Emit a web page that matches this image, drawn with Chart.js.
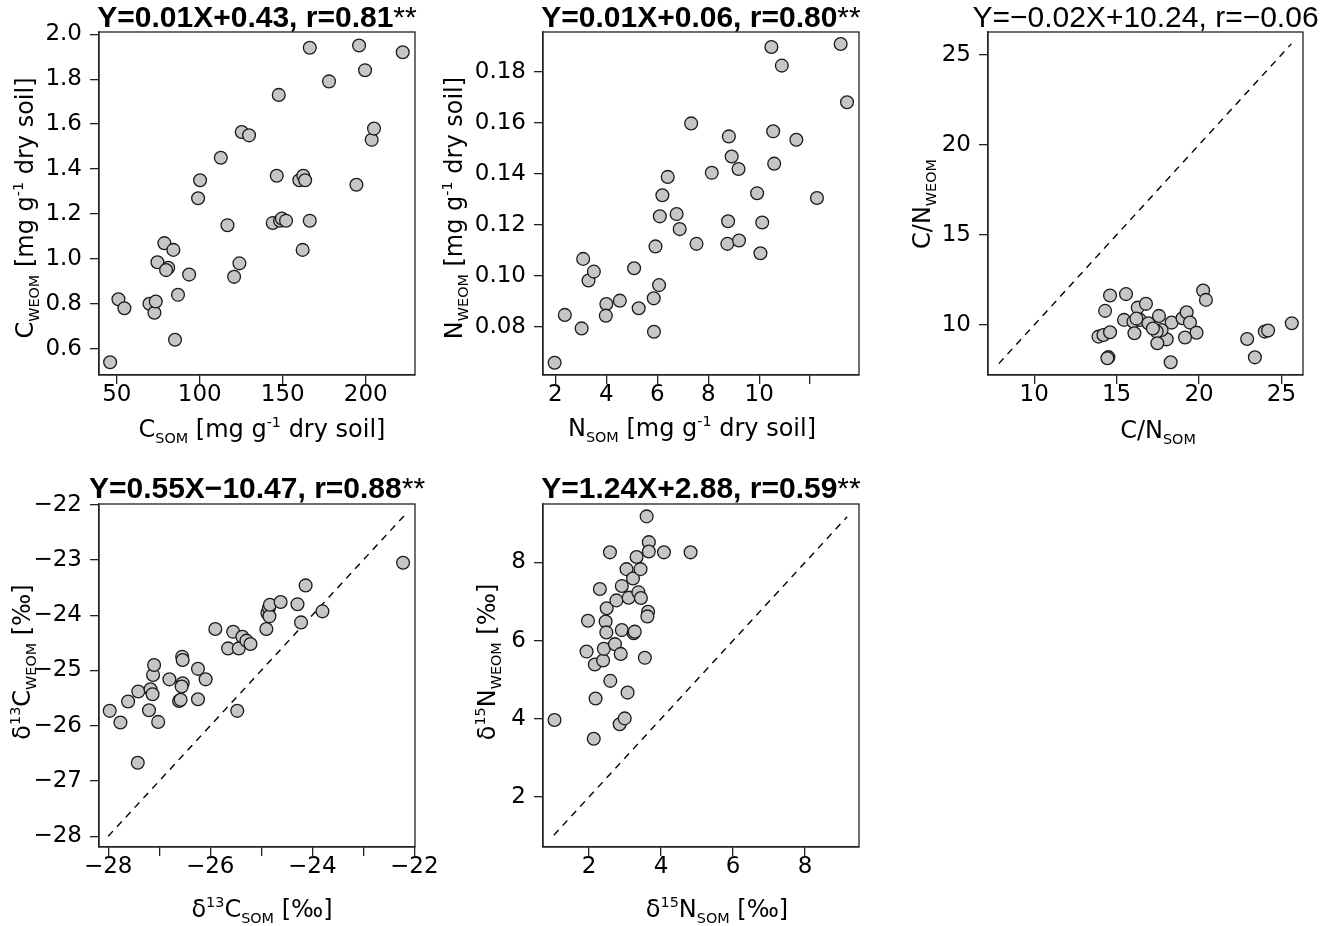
<!DOCTYPE html>
<html>
<head>
<meta charset="utf-8">
<script src="https://cdn.jsdelivr.net/npm/chart.js@4.4.1/dist/chart.umd.min.js"></script>
<style>
  html, body { margin: 0; padding: 0; background: #fff; }
  #wrap { position: relative; width: 1325px; height: 926px; overflow: hidden; }
  #wrap canvas { position: absolute; left: 0; top: 0; }
</style>
</head>
<body>
<div id="wrap">
  <canvas id="p1" width="1325" height="926"></canvas>
  <canvas id="p2" width="1325" height="926"></canvas>
  <canvas id="p3" width="1325" height="926"></canvas>
  <canvas id="p4" width="1325" height="926"></canvas>
  <canvas id="p5" width="1325" height="926"></canvas>
</div>
<script>
// C content [mg g-1 dry soil]
var cSom  = [46, 51, 54.6, 69.7, 72.7, 73.5, 74.5, 78.7, 81, 79.7, 84.1, 86.9, 85.1, 93.6, 99, 100.2,
             112.7, 116.7, 120.7, 123.9, 125.3, 129.7, 144, 146.4, 147.6, 148.4, 149.5, 152, 160, 162.4,
             163.5, 162, 166.3, 166.3, 177.9, 194.4, 196, 199.6, 203.6, 205, 222.3];
var cWeom = [0.54, 0.82, 0.78, 0.80, 0.76, 0.81, 0.985, 1.07, 0.96, 0.95, 1.04, 0.84, 0.64, 0.93, 1.27, 1.35,
             1.45, 1.15, 0.92, 0.98, 1.565, 1.55, 1.16, 1.37, 1.73, 1.17, 1.18, 1.17, 1.35, 1.37,
             1.35, 1.04, 1.94, 1.17, 1.79, 1.33, 1.95, 1.84, 1.53, 1.58, 1.92];

// N content
var nSom  = [1.97, 2.37, 3.03, 3.09, 3.30, 3.51, 4.00, 3.98, 4.53, 5.09, 5.27, 5.86, 5.87, 6.07, 5.93, 6.10,
             6.20, 6.41, 6.76, 6.88, 7.33, 7.54, 8.14, 8.75, 8.78, 8.81, 8.92, 9.19, 9.21, 9.92,
             10.05, 10.12, 10.48, 10.55, 10.59, 10.89, 11.46, 12.27, 13.20, 13.45];
var nWeom = [0.0658, 0.0846, 0.0793, 0.1066, 0.0981, 0.1016, 0.0889, 0.0843, 0.0902, 0.1029, 0.0872, 0.0911,
             0.0780, 0.0963, 0.1115, 0.1233, 0.1316, 0.1388, 0.1242, 0.1183, 0.1598, 0.1125, 0.1404, 0.1125,
             0.1214, 0.1547, 0.1468, 0.1419, 0.1138, 0.1324, 0.1088, 0.1209, 0.1898, 0.1567, 0.1440, 0.1825,
             0.1534, 0.1305, 0.1910, 0.1681];

// C/N ratio
var cnSom  = [14.60, 15.57, 14.30, 16.28, 16.78, 15.45, 16.02, 16.42, 16.93, 17.57, 18.34, 19.00, 19.25, 19.45,
              19.85, 19.15, 18.04, 17.73, 17.43, 17.47, 16.08, 13.90, 14.20, 14.60, 14.50, 14.44, 18.28, 20.25,
              20.42, 17.20, 16.20, 22.92, 23.39, 23.99, 24.19, 25.63];
var cnWeom = [11.63, 11.71, 10.78, 10.96, 11.17, 10.28, 10.18, 10.28, 10.09, 10.50, 10.13, 10.37, 10.70, 10.13,
              9.57, 9.30, 9.20, 9.72, 9.63, 8.98, 9.54, 9.35, 9.44, 9.59, 8.21, 8.15, 7.93, 11.91,
              11.39, 9.80, 10.35, 9.22, 8.20, 9.63, 9.69, 10.09];

// delta 13C
var d13cSom  = [-27.97, -27.76, -27.61, -27.41, -27.42, -27.20, -27.17, -27.13, -27.12, -27.10, -27.02, -26.80,
                -26.61, -26.58, -26.55, -26.54, -26.54, -26.56, -26.24, -26.24, -26.09, -25.90, -25.65, -25.55,
                -25.47, -25.44, -25.37, -25.29, -25.21, -24.90, -24.88, -24.85, -24.84, -24.83, -24.62, -24.29,
                -24.22, -24.13, -23.80, -22.22];
var d13cWeom = [-25.73, -25.94, -25.56, -25.38, -26.67, -25.72, -25.34, -25.43, -25.08, -24.90, -25.93, -25.16,
                -25.55, -25.53, -24.75, -24.81, -25.23, -25.29, -25.52, -24.97, -25.16, -24.25, -24.60, -24.30,
                -25.73, -24.60, -24.39, -24.46, -24.52, -24.25, -23.96, -23.87, -24.02, -23.81, -23.76, -23.80,
                -24.13, -23.46, -23.93, -23.05];

// delta 15N
var d15nSom  = [1.04, 1.97, 1.93, 2.13, 2.18, 2.16, 2.30, 2.39, 2.41, 2.46, 2.48, 2.49, 2.58, 2.59, 2.72, 2.76,
                2.85, 2.88, 2.91, 2.91, 2.99, 3.07, 3.04, 3.10, 3.22, 3.24, 3.27, 3.32, 3.37, 3.43, 3.44, 3.55,
                3.60, 3.64, 3.62, 3.66, 3.66, 4.08, 4.82];
var d15nWeom = [3.97, 6.51, 5.72, 3.49, 4.52, 5.39, 7.32, 5.49, 5.79, 6.49, 6.21, 6.83, 8.26, 4.97, 5.91, 7.03,
                3.86, 5.66, 6.27, 7.40, 4.01, 4.67, 7.83, 7.10, 7.59, 6.19, 6.23, 8.14, 7.24, 7.83, 7.09, 5.56,
                9.18, 6.74, 6.62, 8.52, 8.28, 8.26, 8.26];

// 1:1 reference lines (start, end)
var cnDiag   = [7.85, 25.6];
var d13cDiag = [-28, -22.2];
var d15nDiag = [1.02, 9.17];

// axis ticks and labels
var cSomTicks   = [50, 100, 150, 200];
var cSomLabels  = ['50', '100', '150', '200'];
var cWeomTicks  = [0.6, 0.8, 1.0, 1.2, 1.4, 1.6, 1.8, 2.0];
var cWeomLabels = ['0.6', '0.8', '1.0', '1.2', '1.4', '1.6', '1.8', '2.0'];
var nSomTicks   = [2, 4, 6, 8, 10, 12];
var nSomLabels  = ['2', '4', '6', '8', '10', ''];
var nWeomTicks  = [0.08, 0.10, 0.12, 0.14, 0.16, 0.18];
var nWeomLabels = ['0.08', '0.10', '0.12', '0.14', '0.16', '0.18'];
var cnTicks     = [10, 15, 20, 25];
var cnLabels    = ['10', '15', '20', '25'];
var d13cXTicks  = [-28, -27, -26, -25, -24, -23, -22];
var d13cXLabels = ['\u221228', '', '\u221226', '', '\u221224', '', '\u221222'];
var d13cYTicks  = [-28, -27, -26, -25, -24, -23, -22];
var d13cYLabels = ['\u221228', '\u221227', '\u221226', '\u221225', '\u221224', '\u221223', '\u221222'];
var d15nTicks   = [2, 4, 6, 8];
var d15nLabels  = ['2', '4', '6', '8'];

var TICK_FONT  = '"DejaVu Sans", sans-serif';
var TITLE_FONT = '"Liberation Sans", Arial, sans-serif';
var W = 1325, H = 926, YW = 80, XH = 40;

function pairs(xs, ys) {
  return xs.map(function (x, i) { return { x: x, y: ys[i] }; });
}

// draws a line of text made of normal / subscript / superscript parts
function drawRich(ctx, parts, x, y, size, family, rot) {
  ctx.save();
  ctx.translate(x, y);
  ctx.rotate(rot || 0);
  ctx.textBaseline = 'alphabetic';
  ctx.textAlign = 'left';
  ctx.fillStyle = '#000';
  var total = 0;
  var items = parts.map(function (p) {
    var kind = p.k || 0;
    var fs = kind ? size * 0.6 : size;
    var font = (p.b ? 'bold ' : '') + fs + 'px ' + family;
    ctx.font = font;
    var w = ctx.measureText(p.t).width;
    total += w;
    return { t: p.t, font: font, w: w, dy: kind === 1 ? size * 0.25 : kind === 2 ? -size * 0.42 : 0 };
  });
  var cx = -total / 2;
  items.forEach(function (it) {
    ctx.font = it.font;
    ctx.fillText(it.t, cx, it.dy);
    cx += it.w;
  });
  ctx.restore();
}

var decorPlugin = {
  id: 'decor',
  afterDraw: function (chart, args, o) {
    var ctx = chart.ctx, a = chart.chartArea;
    ctx.save();
    ctx.strokeStyle = '#222';
    ctx.lineWidth = 1.3;
    ctx.strokeRect(a.left, a.top, a.right - a.left, a.bottom - a.top);
    ctx.restore();
    var cxm = (a.left + a.right) / 2;
    drawRich(ctx, o.title, cxm, o.titleY, 30, TITLE_FONT, 0);
    drawRich(ctx, o.xTitle, o.xTitlePos[0], o.xTitlePos[1], 24, TICK_FONT, 0);
    drawRich(ctx, o.yTitle, o.yTitlePos[0], o.yTitlePos[1], 24, TICK_FONT, -Math.PI / 2);
  }
};

function axis(min, max, ticks, labels, horizontal) {
  return {
    type: 'linear',
    min: min,
    max: max,
    afterBuildTicks: function (s) { s.ticks = ticks.map(function (v) { return { value: v }; }); },
    afterFit: function (s) { if (horizontal) s.height = XH; else s.width = YW; },
    grid: { display: true, drawOnChartArea: false, drawTicks: true, tickLength: 9, color: '#222', lineWidth: 1.3 },
    border: { display: true, color: '#222', width: 1.3 },
    ticks: {
      autoSkip: false,
      maxRotation: 0,
      padding: horizontal ? 0 : 8,
      color: '#000',
      font: { family: TICK_FONT, size: 23, lineHeight: 1 },
      callback: function (v, i) { return labels[i]; }
    }
  };
}

function panel(id, box, xs, ys, diag, xAx, yAx, deco) {
  var datasets = [{
    data: pairs(xs, ys),
    backgroundColor: '#c6c6c6',
    borderColor: '#1a1a1a',
    borderWidth: 1.3,
    pointRadius: 6.4,
    clip: false
  }];
  if (diag) {
    datasets.push({
      data: [{ x: diag[0], y: diag[0] }, { x: diag[1], y: diag[1] }],
      showLine: true,
      borderColor: '#000',
      borderWidth: 1.4,
      borderDash: [7, 6],
      pointRadius: 0,
      fill: false
    });
  }
  new Chart(document.getElementById(id), {
    type: 'scatter',
    data: { datasets: datasets },
    plugins: [decorPlugin],
    options: {
      responsive: false,
      animation: false,
      devicePixelRatio: 1,
      events: [],
      layout: { padding: { left: box[0] - YW, top: box[1], right: W - box[2], bottom: H - box[3] - XH } },
      scales: { x: xAx, y: yAx },
      plugins: { legend: { display: false }, tooltip: { enabled: false }, decor: deco }
    }
  });
}

var SUB = 1, SUP = 2;

panel('p1', [99, 32, 415, 375], cSom, cWeom, null,
  axis(39.3, 229.7, cSomTicks, cSomLabels, true),
  axis(0.483, 2.010, cWeomTicks, cWeomLabels, false),
  {
    title: [{ t: 'Y=0.01X+0.43, r=0.81', b: 1 }, { t: '**' }], titleY: 27,
    xTitle: [{ t: 'C' }, { t: 'SOM', k: SUB }, { t: ' [mg g' }, { t: '-1', k: SUP }, { t: ' dry soil]' }], xTitlePos: [262, 437],
    yTitle: [{ t: 'C' }, { t: 'WEOM', k: SUB }, { t: ' [mg g' }, { t: '-1', k: SUP }, { t: ' dry soil]' }], yTitlePos: [33, 208]
  });

panel('p2', [543, 32, 859, 375], nSom, nWeom, null,
  axis(1.513, 13.92, nSomTicks, nSomLabels, true),
  axis(0.0610, 0.1957, nWeomTicks, nWeomLabels, false),
  {
    title: [{ t: 'Y=0.01X+0.06, r=0.80', b: 1 }, { t: '**' }], titleY: 27,
    xTitle: [{ t: 'N' }, { t: 'SOM', k: SUB }, { t: ' [mg g' }, { t: '-1', k: SUP }, { t: ' dry soil]' }], xTitlePos: [692, 436],
    yTitle: [{ t: 'N' }, { t: 'WEOM', k: SUB }, { t: ' [mg g' }, { t: '-1', k: SUP }, { t: ' dry soil]' }], yTitlePos: [462, 208]
  });

panel('p3', [988, 32, 1303, 375], cnSom, cnWeom, cnDiag,
  axis(7.195, 26.31, cnTicks, cnLabels, true),
  axis(7.22, 26.26, cnTicks, cnLabels, false),
  {
    title: [{ t: 'Y=\u22120.02X+10.24, r=\u22120.06' }], titleY: 27,
    xTitle: [{ t: 'C/N' }, { t: 'SOM', k: SUB }], xTitlePos: [1158, 438],
    yTitle: [{ t: 'C/N' }, { t: 'WEOM', k: SUB }], yTitlePos: [930, 204]
  });

panel('p4', [99, 504, 415, 847], d13cSom, d13cWeom, d13cDiag,
  axis(-28.18, -21.986, d13cXTicks, d13cXLabels, true),
  axis(-28.194, -21.987, d13cYTicks, d13cYLabels, false),
  {
    title: [{ t: 'Y=0.55X\u221210.47, r=0.88', b: 1 }, { t: '**' }], titleY: 498,
    xTitle: [{ t: '\u03b4' }, { t: '13', k: SUP }, { t: 'C' }, { t: 'SOM', k: SUB }, { t: ' [\u2030]' }], xTitlePos: [262, 917],
    yTitle: [{ t: '\u03b4' }, { t: '13', k: SUP }, { t: 'C' }, { t: 'WEOM', k: SUB }, { t: ' [\u2030]' }], yTitlePos: [30, 662]
  });

panel('p5', [543, 504, 859, 847], d15nSom, d15nWeom, d15nDiag,
  axis(0.72, 9.50, d15nTicks, d15nLabels, true),
  axis(0.718, 9.497, d15nTicks, d15nLabels, false),
  {
    title: [{ t: 'Y=1.24X+2.88, r=0.59', b: 1 }, { t: '**' }], titleY: 498,
    xTitle: [{ t: '\u03b4' }, { t: '15', k: SUP }, { t: 'N' }, { t: 'SOM', k: SUB }, { t: ' [\u2030]' }], xTitlePos: [717, 917],
    yTitle: [{ t: '\u03b4' }, { t: '15', k: SUP }, { t: 'N' }, { t: 'WEOM', k: SUB }, { t: ' [\u2030]' }], yTitlePos: [495, 662]
  });
</script>
</body>
</html>
